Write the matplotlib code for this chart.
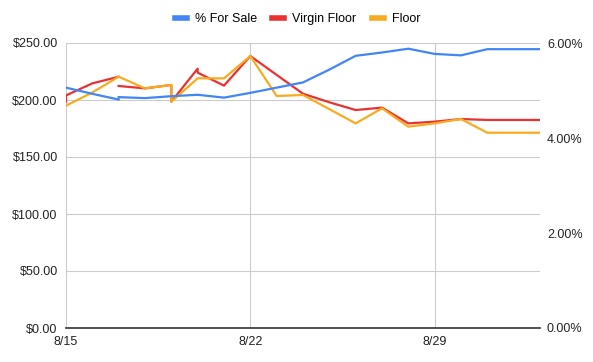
import numpy as np
import matplotlib
matplotlib.use("Agg")
import matplotlib.pyplot as plt
from matplotlib.ticker import FuncFormatter

plt.rcParams['font.family'] = ['Liberation Sans', 'DejaVu Sans']
plt.rcParams['font.size'] = 9

# rows of the sheet: day offset from 8/15 (same day can repeat), nan = blank cell
days = [0, 0, 1, 2, 2, 2, 3, 4, 4, 5, 5, 6, 7, 8, 9, 10, 11, 12, 13, 14, 15, 16, 17, 18]
for_sale_pct = [5.06, 5.06, 4.93, 4.81, np.nan, 4.86, 4.84, 4.88, 4.88, 4.91, 4.91, 4.85,
                4.95, 5.06, 5.17, 5.44, 5.73, 5.80, 5.88, 5.77, 5.74, 5.87, 5.87, 5.87]
virgin_floor = [198.5, 204.0, 214.6, 220.4, np.nan, 212.3, 210.2, 213.2, 198.5, 227.5, 224.0, 212.6,
                238.6, 222.0, 205.5, 198.0, 191.2, 193.3, 179.5, 181.0, 183.3, 182.5, 182.5, 182.5]
floor = [195.0, 195.0, 206.6, 220.4, 220.4, 220.4, 210.2, 213.2, 198.5, 219.0, 219.0, 219.0,
         238.6, 203.5, 204.4, 192.0, 179.5, 192.7, 176.6, 179.5, 183.3, 171.3, 171.3, 171.3]

tick_days = [0, 7, 14]
tick_labels = ['8/15', '8/22', '8/29']

c_blue = '#4285f4'
c_red = '#ea3131'
c_orange = '#f9ab1f'

fig = plt.figure(figsize=(5.93, 3.62), dpi=100)
ax = fig.add_axes([66 / 593, 34 / 362, 474 / 593, 285 / 362])
ax2 = ax.twinx()

l1, = ax2.plot(days, for_sale_pct, color=c_blue, lw=1.6, label='% For Sale', zorder=3)
l2, = ax.plot(days, virgin_floor, color=c_red, lw=1.6, label='Virgin Floor', zorder=3)
l3, = ax.plot(days, floor, color=c_orange, lw=1.6, label='Floor', zorder=4)

ax.set_xlim(0, 18)
ax.set_ylim(0, 250)
ax2.set_ylim(0, 6)
ax.set_yticks(np.arange(0, 251, 50))
ax2.set_yticks([0, 2, 4, 6])
ax.yaxis.set_major_formatter(FuncFormatter(lambda v, p: f'${v:,.2f}'))
ax2.yaxis.set_major_formatter(FuncFormatter(lambda v, p: f'{v:.2f}%'))
ax.set_xticks(tick_days)
ax.set_xticklabels(tick_labels)

ax.grid(True, color='#cccccc', lw=0.8)
ax.set_axisbelow(True)
for a in (ax, ax2):
    for s in ('top', 'right', 'left', 'bottom'):
        a.spines[s].set_visible(False)
    a.tick_params(length=0, colors='#222222')
ax.axhline(0, color='#333333', lw=1.2, zorder=5, clip_on=False)
ax.tick_params(axis='y', pad=6)
ax.tick_params(axis='x', pad=6)
ax2.tick_params(axis='y', pad=5)

fig.legend(handles=[l1, l2, l3], loc='center', bbox_to_anchor=(0.502, 1 - 19 / 362),
           ncol=3, frameon=False, handlelength=0.95, handletextpad=0.65, columnspacing=1.25,
           fontsize=9)
for h in fig.legends[0].legend_handles:
    h.set_linewidth(4)

fig.savefig('out.png', dpi=100)
